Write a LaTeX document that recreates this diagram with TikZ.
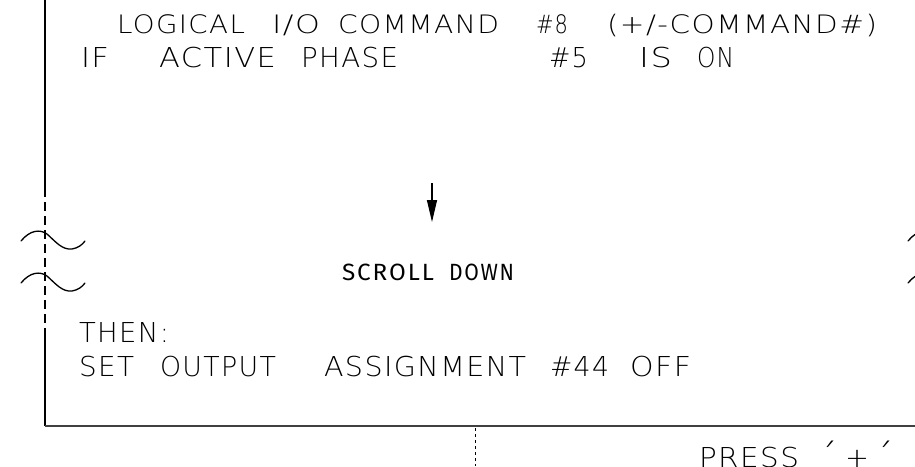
\documentclass[tikz,border=0pt]{standalone}
\usepackage{fontspec}
\usepackage{graphicx}
\usetikzlibrary{arrows.meta}
\IfFontExistsTF{DejaVuSans-ExtraLight.ttf}{%
  \newfontfamily\cad[LetterSpace=5]{DejaVuSans-ExtraLight.ttf}\def\fsa{25.4}\def\fsb{27.4}}{%
 \IfFontExistsTF{DejaVu Sans ExtraLight}{%
  \newfontfamily\cad[LetterSpace=5]{DejaVu Sans ExtraLight}\def\fsa{25.4}\def\fsb{27.4}}{%
  \IfFontExistsTF{Fira Sans Light}{%
   \newfontfamily\cad[LetterSpace=10]{Fira Sans Light}\def\fsa{26.8}\def\fsb{29}}{%
   \newfontfamily\cad[LetterSpace=10]{Fira Sans}\def\fsa{26.8}\def\fsb{29}}}}
\newfontfamily\cadm[LetterSpace=8]{Fira Sans}
\newcommand\cw[2]{\resizebox{#1pt}{\height}{#2}}
\begin{document}
\begin{tikzpicture}[x=1pt,y=-1pt,
  ta/.style={anchor=base west,inner sep=0pt,outer sep=0pt,font=\cad\fontsize{\fsa}{30}\selectfont},
  tb/.style={ta,font=\cad\fontsize{\fsb}{32}\selectfont},
  tsc/.style={anchor=base west,inner sep=0pt,outer sep=0pt,font=\cadm\fontsize{23.5}{28}\selectfont},
  edgeline/.style={line width=1.3pt,black},
  baseline/.style={line width=1.8pt,black!75},
  brk/.style={line width=1.3pt,black,dash pattern=on 9pt off 5pt},
  tickline/.style={line width=0.8pt,black,dash pattern=on 3pt off 3pt},
  wave/.style={line width=1.3pt,black,line cap=round},
  arr/.style={line width=1.3pt,black,-{Triangle[length=22pt,width=10pt]}}]
\useasboundingbox (0,0) rectangle (915,466);
\clip (0,0) rectangle (915,466);
% frame
\coordinate (lt) at (45,0);
\coordinate (lb1) at (45,188);
\coordinate (lb2) at (45,332);
\coordinate (lc) at (45,426);
\coordinate (rc) at (915,426);
\draw[edgeline] (lt) -- (lb1);
\draw[brk] (lb1) -- (lb2);
\draw[edgeline] (lb2) -- (lc);
\draw[baseline] (lc) -- (rc);
\coordinate (dt) at (475,428);
\coordinate (db) at (475,466);
\draw[tickline] (dt) -- (db);
% break marks
\foreach \dx/\dy in {0/0,0/42,887/0,887/42}
  \draw[wave,shift={(\dx,\dy)}] (21,241) .. controls (30,230) and (40,229) .. (47,234)
     .. controls (56,242) and (62,250) .. (72,249) .. controls (78,248) and (82,245) .. (85,241);
% arrow
\coordinate (as) at (432,183);
\coordinate (ae) at (432,222);
\draw[arr] (as) -- (ae);
% line 1
\node[ta] (a1) at (117,33) {\cw{128}{LOGICAL}};
\node[ta] (a2) at (272,33) {\cw{48}{I/O}};
\node[ta] (a3) at (338,33) {\cw{161}{COMMAND}};
\node[ta] (a4) at (536,33) {\cw{32}{\#8}};
\node[ta] (a5) at (607,33) {\cw{270}{(+/-COMMAND\#)}};
% line 2
\node[tb] (b1) at (81,67) {\cw{28}{IF}};
\node[tb] (b2) at (159,67) {\cw{117}{ACTIVE}};
\node[tb] (b3) at (301,67) {\cw{97}{PHASE}};
\node[tb] (b4) at (549,67) {\cw{39}{\#5}};
\node[tb] (b5) at (639,67) {\cw{33}{IS}};
\node[tb] (b6) at (697,67) {\cw{37}{ON}};
% scroll
\node[tsc] (s1) at (342,280) {\cw{92}{SCROLL}};
\node[tsc] (s2) at (449,280) {\cw{65}{DOWN}};
% then
\node[tb] (c1) at (79,342) {\cw{90}{THEN:}};
\node[tb] (d1) at (79,376) {\cw{55}{SET}};
\node[tb] (d2) at (160,376) {\cw{116}{OUTPUT}};
\node[tb] (d3) at (324,376) {\cw{202}{ASSIGNMENT}};
\node[tb] (d4) at (550,376) {\cw{59}{\#44}};
\node[tb] (d5) at (630,376) {\cw{61}{OFF}};
% press
\node[tb] (p1) at (699,467) {\cw{100}{PRESS}};
\node[tb] (p2) at (820,469) {\scalebox{1.3}{´}};
\node[tb] (p3) at (845,467) {\cw{24}{+}};
\node[tb] (p4) at (876,469) {\scalebox{1.3}{´}};
\end{tikzpicture}
\end{document}
